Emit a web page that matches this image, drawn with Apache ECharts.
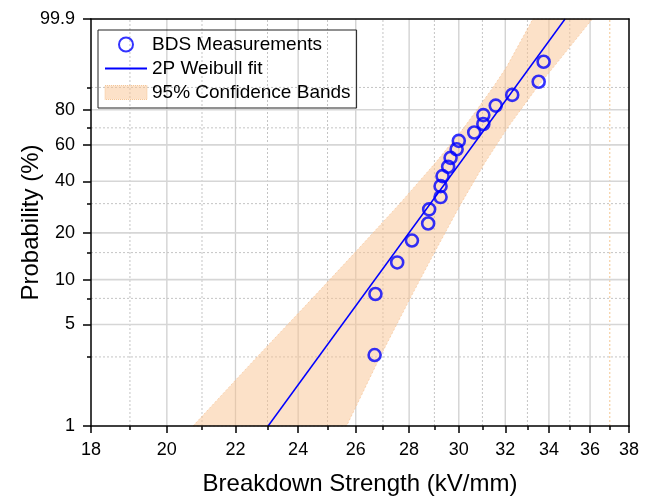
<!DOCTYPE html>
<html>
<head>
<meta charset="utf-8">
<script src="https://cdn.jsdelivr.net/npm/echarts@6/dist/echarts.min.js"></script>
<style>
html,body{margin:0;padding:0;background:#fff}
#chart{width:659px;height:499px}
</style>
</head>
<body>
<div id="chart"></div>
<script>
// 测得的击穿强度 (kV/mm) 与累积概率 (%)
const bdsValues = [26.69, 26.72, 27.54, 28.11, 28.75, 28.79, 29.25, 29.25, 29.33, 29.56,
                   29.66, 29.91, 30.0, 30.65, 31.04, 31.04, 31.58, 32.31, 33.52, 33.75]
const bdsProb = [3.09, 8.02, 12.96, 17.90, 22.84, 27.78, 32.72, 37.65, 42.59, 47.53,
                 52.47, 57.41, 62.35, 67.28, 72.22, 77.16, 82.10, 87.04, 91.98, 96.91]

// 2P Weibull 拟合直线的两个端点
const fitX = [23.02, 34.77]
const fitProb = [1, 99.9]

// 95% 置信带（每个概率处的左右边界）
const bandProb = [1, 3, 7.5, 15, 30, 50, 70, 90, 96, 99.9]
const bandLow = [20.74, 22.67, 24.48, 25.97, 27.64, 29.06, 30.21, 31.46, 32.07, 33.25]
const bandHigh = [25.67, 26.89, 28.04, 29.00, 30.09, 31.12, 32.10, 33.44, 34.24, 36.11]

// 坐标轴刻度
const xMajor = [18, 20, 22, 24, 26, 28, 30, 32, 34, 36, 38]
const xMinor = [19, 21, 23, 25, 27, 29, 31, 33, 35, 37]
const yMajor = [1, 5, 10, 20, 40, 60, 80, 99.9]
const yMinor = [3, 7.5, 15, 30, 70, 90]

// Weibull 概率纸的坐标变换
const tx = x => Math.log(x)
const ty = p => Math.log(-Math.log(1 - p / 100))
const xMin = tx(18), xMax = tx(38)
const yMin = ty(1), yMax = ty(99.9)

const font = 'Liberation Sans, Arial, sans-serif'

// 网格线
let gridSpec = []
xMajor.slice(1, -1).forEach(v => gridSpec.push({dir: 'x', v: tx(v), color: '#cfcfcf', w: 1.3, dash: null}))
xMinor.forEach(v => gridSpec.push({dir: 'x', v: tx(v), color: v === 37 ? '#f2c591' : '#c4c4c4', w: 1, dash: [2, 2]}))
yMajor.slice(1, -1).forEach(v => gridSpec.push({dir: 'y', v: ty(v), color: '#d6d6d6', w: 1.6, dash: null}))
yMinor.forEach(v => gridSpec.push({dir: 'y', v: ty(v), color: '#c4c4c4', w: 1, dash: [2, 2]}))

const xFmt = v => String(Math.round(Math.exp(v)))
const yFmt = v => String(parseFloat(((1 - Math.exp(-Math.exp(v))) * 100).toFixed(1)))

function hiddenAxis(extra){
    return Object.assign({
        type: 'value', axisLine: {show: false, onZero: false}, axisTick: {show: false},
        axisLabel: {show: false}, splitLine: {show: false}
    }, extra)
}

let option = {
    animation: false,
    backgroundColor: '#fff',
    grid: {left: 91, top: 19, width: 538, height: 407, outerBoundsMode: 'none'},
    legend: {
        left: 98, top: 30, orient: 'vertical',
        padding: [5, 6, 6, 6],
        itemWidth: 42, itemHeight: 14, itemGap: 5,
        borderColor: '#222', borderWidth: 1,
        textStyle: {fontFamily: font, fontSize: 19, color: '#000'},
        data: [
            {name: 'BDS Measurements', icon: 'circle'},
            {name: '2P Weibull fit', itemStyle: {color: 'rgba(0,0,0,0)', borderWidth: 0, opacity: 0}},
            {name: '95% Confidence Bands', icon: 'rect',
             itemStyle: {color: 'rgba(250,196,145,0.5)', borderColor: '#f6c697', borderWidth: 1, borderType: 'dotted'}}
        ]
    },
    xAxis: [
        {
            type: 'value', min: xMin, max: xMax, position: 'bottom', z: 10,
            name: 'Breakdown Strength (kV/mm)', nameLocation: 'middle', nameGap: 46,
            nameMoveOverlap: false,
            nameTextStyle: {fontFamily: font, fontSize: 24, color: '#000'},
            axisLine: {onZero: false, lineStyle: {color: '#000', width: 1.5}},
            axisTick: {customValues: xMajor.map(tx), length: 7, lineStyle: {color: '#000', width: 1.5}},
            axisLabel: {customValues: xMajor.map(tx), formatter: xFmt, margin: 15,
                        fontFamily: font, fontSize: 18, color: '#000'},
            splitLine: {show: false}
        },
        hiddenAxis({min: xMin, max: xMax, position: 'bottom',
            axisTick: {show: true, customValues: xMinor.map(tx), length: 4, lineStyle: {color: '#000', width: 1.5}}}),
        hiddenAxis({min: xMin, max: xMax, position: 'top', z: 10,
            axisLine: {show: true, onZero: false, lineStyle: {color: '#000', width: 1.5}}})
    ],
    yAxis: [
        {
            type: 'value', min: yMin, max: yMax, position: 'left', z: 10,
            name: 'Probability (%)', nameLocation: 'middle', nameGap: 48,
            nameMoveOverlap: false,
            nameTextStyle: {fontFamily: font, fontSize: 24, color: '#000'},
            axisLine: {show: true, onZero: false, lineStyle: {color: '#000', width: 1.5}},
            axisTick: {show: true, customValues: yMajor.map(ty), length: 8, lineStyle: {color: '#000', width: 1.5}},
            axisLabel: {customValues: yMajor.map(ty), formatter: yFmt, margin: 16,
                        fontFamily: font, fontSize: 18, color: '#000'},
            splitLine: {show: false}
        },
        hiddenAxis({min: yMin, max: yMax, position: 'left',
            axisTick: {show: true, customValues: yMinor.map(ty), length: 4, lineStyle: {color: '#000', width: 1.5}}}),
        hiddenAxis({min: yMin, max: yMax, position: 'right', z: 10,
            axisLine: {show: true, onZero: false, lineStyle: {color: '#000', width: 1.5}}})
    ],
    series: [
        {
            name: 'grid', type: 'custom', z: 1, silent: true,
            data: gridSpec.map(g => [g.dir === 'x' ? g.v : xMin, g.dir === 'y' ? g.v : yMin]),
            renderItem: (params, api) => {
                const g = gridSpec[params.dataIndex]
                let p1, p2
                if (g.dir === 'x') { p1 = api.coord([g.v, yMin]); p2 = api.coord([g.v, yMax]) }
                else { p1 = api.coord([xMin, g.v]); p2 = api.coord([xMax, g.v]) }
                return {type: 'line', shape: {x1: p1[0], y1: p1[1], x2: p2[0], y2: p2[1]},
                        style: {stroke: g.color, lineWidth: g.w, lineDash: g.dash}}
            }
        },
        {
            name: '95% Confidence Bands', type: 'custom', z: 2, silent: true,
            itemStyle: {color: 'rgba(250,196,145,0.5)'},
            data: [[xMin, yMin]],
            renderItem: (params, api) => {
                let pts = []
                for (let i = 0; i < bandProb.length; i++) pts.push(api.coord([tx(bandLow[i]), ty(bandProb[i])]))
                for (let i = bandProb.length - 1; i >= 0; i--) pts.push(api.coord([tx(bandHigh[i]), ty(bandProb[i])]))
                return {type: 'polygon', shape: {points: pts},
                        style: {fill: 'rgba(250,196,145,0.5)', stroke: 'rgba(246,190,140,0.6)', lineWidth: 1, lineDash: [2, 2]}}
            }
        },
        {
            name: '2P Weibull fit', type: 'line', z: 3, symbol: 'none',
            lineStyle: {color: '#0000ff', width: 1.5}, itemStyle: {color: '#0000ff'},
            data: fitX.map((x, i) => [tx(x), ty(fitProb[i])])
        },
        {
            name: 'BDS Measurements', type: 'scatter', z: 4, symbol: 'circle', symbolSize: 12,
            itemStyle: {color: 'rgba(0,0,0,0)', borderColor: '#0000ff', borderWidth: 2.6},
            data: bdsValues.map((x, i) => [tx(x), ty(bdsProb[i])])
        }
    ]
}

let chartDom = echarts.init(document.querySelector('#chart'))
chartDom.setOption(option)
</script>
</body>
</html>
